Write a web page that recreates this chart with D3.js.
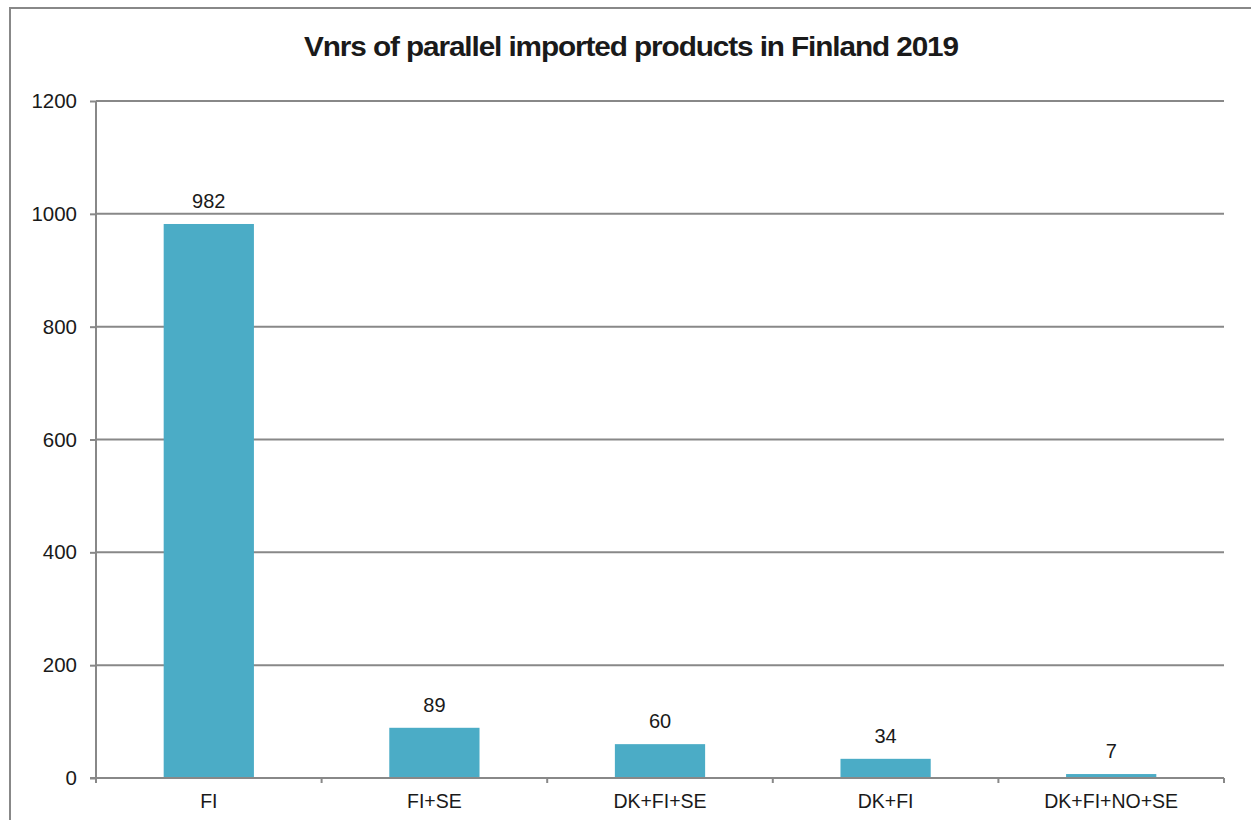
<!DOCTYPE html>
<html>
<head>
<meta charset="utf-8">
<script src="https://cdn.jsdelivr.net/npm/d3@7"></script>
<style>
body { margin: 0; background: #fff; }
svg text { font-family: "Liberation Sans", Arial, sans-serif; fill: #1a1a1a; }
</style>
</head>
<body>
<script>
// data
var categories = ["FI", "FI+SE", "DK+FI+SE", "DK+FI", "DK+FI+NO+SE"]
var values = [982, 89, 60, 34, 7]
var yTicks = [0, 200, 400, 600, 800, 1000, 1200]
var title = "Vnrs of parallel imported products in Finland 2019"

var W = 1251, H = 820
var margin = {top: 101, right: 27, bottom: 42, left: 96}
var width = W - margin.left - margin.right
var height = H - margin.top - margin.bottom

var svg = d3.select("body").append("svg")
	.attr("width", W)
	.attr("height", H)

// outer frame (runs off the right and bottom)
svg.append("rect")
	.attr("x", 10).attr("y", 8)
	.attr("width", W + 20).attr("height", H + 20)
	.attr("fill", "none")
	.attr("stroke", "#888")
	.attr("stroke-width", 2)

// title - narrow bold look, squeezed to the reference width
svg.append("text")
	.attr("x", 631).attr("y", 56)
	.attr("text-anchor", "middle")
	.attr("textLength", 654)
	.attr("lengthAdjust", "spacingAndGlyphs")
	.style("font-weight", "bold")
	.style("font-size", "27px")
	.style("letter-spacing", "-1px")
	.text(title)

var g = svg.append("g")
	.attr("transform", "translate(" + margin.left + "," + margin.top + ")")

var x = d3.scaleBand()
	.domain(categories)
	.range([0, width])
	.paddingInner(0.6)
	.paddingOuter(0.3)

var y = d3.scaleLinear()
	.domain([0, 1200])
	.range([height, 0])

// grid lines
g.selectAll(".grid").data(yTicks.filter(function(d){ return d > 0 }))
	.enter().append("line")
	.attr("class", "grid")
	.attr("x1", 0).attr("x2", width)
	.attr("y1", function(d){ return y(d) })
	.attr("y2", function(d){ return y(d) })
	.attr("stroke", "#888")
	.attr("stroke-width", 2)

// bars
g.selectAll(".bar").data(values)
	.enter().append("rect")
	.attr("class", "bar")
	.attr("x", function(d, i){ return x(categories[i]) })
	.attr("width", x.bandwidth())
	.attr("y", function(d){ return y(d) })
	.attr("height", function(d){ return height - y(d) })
	.attr("fill", "#4BACC6")

// value labels
g.selectAll(".val").data(values)
	.enter().append("text")
	.attr("class", "val")
	.attr("x", function(d, i){ return x(categories[i]) + x.bandwidth() / 2 })
	.attr("y", function(d){ return y(d) - 16 })
	.attr("text-anchor", "middle")
	.style("font-size", "20px")
	.text(function(d){ return d })

// y axis
var yAxis = g.append("g")
	.call(d3.axisLeft(y).tickValues(yTicks).tickFormat(d3.format("d")).tickSize(6).tickPadding(13))
yAxis.select(".domain").attr("stroke", "#888").attr("stroke-width", 2)
	.attr("d", "M0,0V" + (height + 5))
yAxis.selectAll(".tick line").attr("stroke", "#888").attr("stroke-width", 2)
yAxis.selectAll(".tick text").style("font-size", "20.5px").attr("fill", "#1a1a1a")

// x axis
var step = x.step()
var xAxis = g.append("g").attr("transform", "translate(0," + height + ")")
xAxis.append("line")
	.attr("x1", -6).attr("x2", width)
	.attr("stroke", "#888").attr("stroke-width", 2)
xAxis.selectAll(".xtick").data(d3.range(categories.length + 1))
	.enter().append("line")
	.attr("class", "xtick")
	.attr("x1", function(i){ return i * step })
	.attr("x2", function(i){ return i * step })
	.attr("y1", 0).attr("y2", 5)
	.attr("stroke", "#888").attr("stroke-width", 2)
xAxis.selectAll(".xlab").data(categories)
	.enter().append("text")
	.attr("class", "xlab")
	.attr("x", function(d){ return x(d) + x.bandwidth() / 2 })
	.attr("y", 30)
	.attr("text-anchor", "middle")
	.style("font-size", "19.5px")
	.text(function(d){ return d })
</script>
</body>
</html>
